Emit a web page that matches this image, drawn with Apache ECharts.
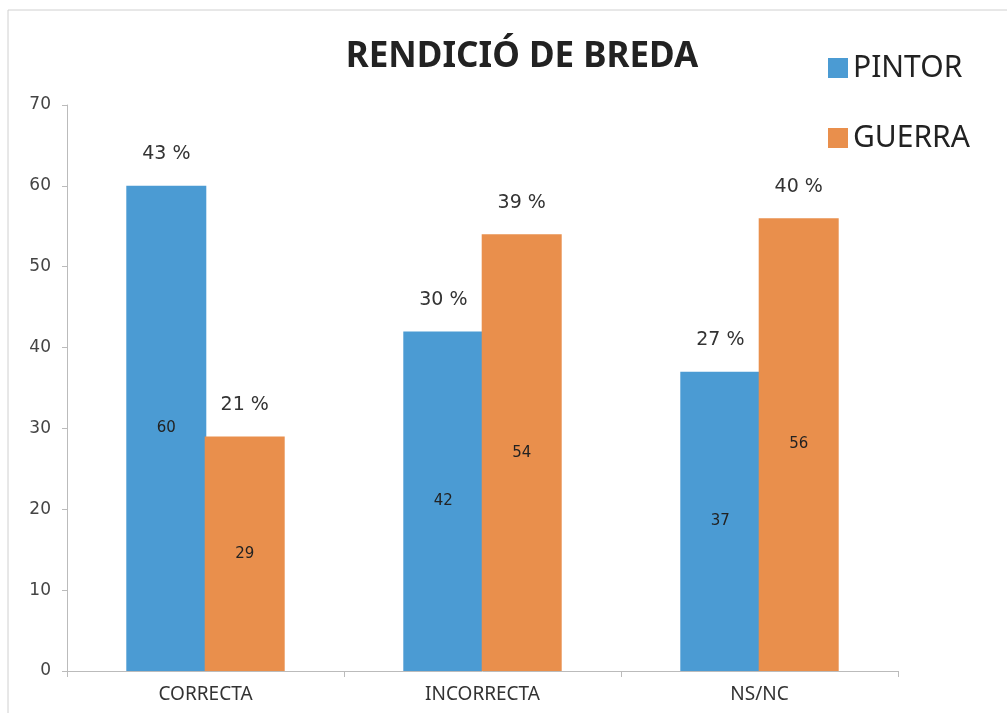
<!DOCTYPE html>
<html>
<head>
<meta charset="utf-8">
<script src="https://cdn.jsdelivr.net/npm/echarts@6/dist/echarts.min.js"></script>
<style>
  html, body { margin: 0; padding: 0; background: #fff; }
  #chart { width: 1007px; height: 713px; }
</style>
</head>
<body>
<div id="chart"></div>
<script>
const categories = ['CORRECTA', 'INCORRECTA', 'NS/NC']
const pintorValues = [60, 42, 37]
const guerraValues = [29, 54, 56]
const pintorPct = ['43 %', '30 %', '27 %']
const guerraPct = ['21 %', '39 %', '40 %']

const narrow = "'Noto Sans', sans-serif"
const numFont = "'DejaVu Sans', Verdana, sans-serif"

const chart = echarts.init(document.getElementById('chart'))

function pctMarks(values, pcts) {
  return {
    symbol: 'rect',
    symbolSize: 0,
    label: {
      show: true,
      position: 'top',
      distance: 22,
      fontFamily: numFont,
      fontSize: 19,
      color: '#333',
      formatter: p => p.name
    },
    data: values.map((v, i) => ({ name: pcts[i], coord: [categories[i], v] }))
  }
}

const option = {
  animation: false,
  title: {
    text: 'RENDICIÓ DE BREDA',
    left: 517,
    textAlign: 'center',
    top: 35,
    textStyle: { fontFamily: narrow, fontWeight: 'bold', fontSize: 35, color: '#222' }
  },
  legend: {
    orient: 'vertical',
    left: 823,
    top: 48,
    itemWidth: 20,
    itemHeight: 20,
    itemGap: 40,
    icon: 'rect',
    textStyle: { fontFamily: narrow, fontSize: 30, color: '#222' },
    data: ['PINTOR', 'GUERRA']
  },
  grid: { left: 67, right: 109, top: 105, bottom: 42 },
  xAxis: {
    type: 'category',
    data: categories,
    axisLine: { lineStyle: { color: '#bbb' } },
    axisTick: { show: true, length: 6, lineStyle: { color: '#bbb' } },
    axisLabel: { fontFamily: narrow, fontSize: 19, color: '#333', margin: 14 }
  },
  yAxis: {
    type: 'value',
    min: 0,
    max: 70,
    interval: 10,
    axisLine: { show: true, lineStyle: { color: '#bbb' } },
    axisTick: { show: true, length: 5, lineStyle: { color: '#bbb' } },
    splitLine: { show: false },
    axisLabel: { fontFamily: numFont, fontSize: 17, color: '#444', margin: 16 }
  },
  series: [
    {
      name: 'PINTOR',
      type: 'bar',
      data: pintorValues,
      barWidth: 80,
      barGap: '-2%',
      itemStyle: { color: '#4b9bd3' },
      label: { show: true, position: 'inside', fontFamily: numFont, fontSize: 15, color: '#222' },
      markPoint: pctMarks(pintorValues, pintorPct)
    },
    {
      name: 'GUERRA',
      type: 'bar',
      data: guerraValues,
      barWidth: 80,
      barGap: '-2%',
      itemStyle: { color: '#e98f4c' },
      label: { show: true, position: 'inside', fontFamily: numFont, fontSize: 15, color: '#222' },
      markPoint: pctMarks(guerraValues, guerraPct)
    }
  ],
  graphic: [
    {
      type: 'rect',
      shape: { x: 8, y: 10, width: 1010, height: 720 },
      style: { fill: 'none', stroke: '#d0d0d0', lineWidth: 1 },
      silent: true
    }
  ]
}

chart.setOption(option)
</script>
</body>
</html>
